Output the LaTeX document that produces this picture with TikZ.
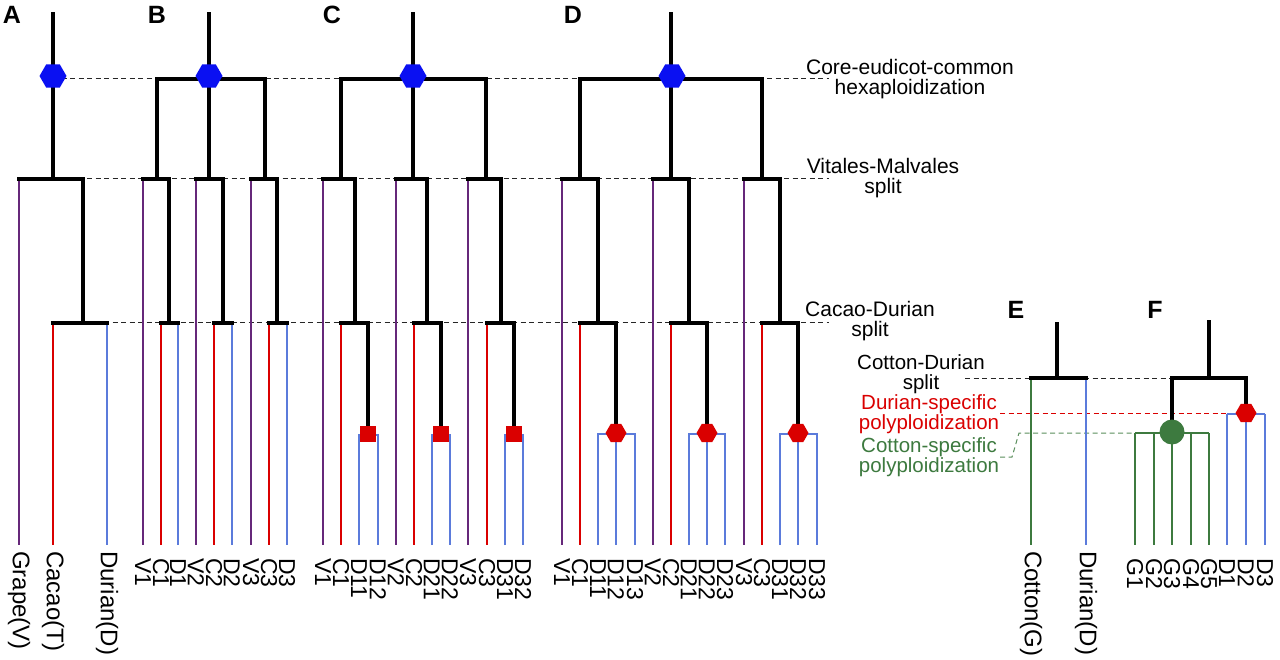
\documentclass[tikz,border=0pt]{standalone}
\usepackage{fontspec}
\setmainfont{Liberation Sans}
\usetikzlibrary{shapes.geometric}
\definecolor{cpur}{HTML}{66287A}
\definecolor{cred}{HTML}{DA0000}
\definecolor{cblu}{HTML}{5B7BDB}
\definecolor{cgrn}{HTML}{3D7A3F}
\definecolor{chex}{HTML}{0A10F2}
\begin{document}
\begin{tikzpicture}[x=1pt,y=-1pt,
  blk/.style={line width=3.3pt, black, line cap=rect},
  pur/.style={line width=2.9pt, cpur},
  rdl/.style={line width=2.9pt, cred},
  bll/.style={line width=2.9pt, cblu},
  gnl/.style={line width=2.9pt, cgrn},
  dsh/.style={line width=1pt, dash pattern=on 5pt off 3.5pt},
  leaflab/.style={rotate=-90, anchor=west, inner sep=0pt, font=\fontsize{23}{23}\selectfont},
  namelab/.style={rotate=-90, anchor=west, inner sep=0pt, font=\fontsize{24}{24}\selectfont},
  annot/.style={align=center, inner sep=0pt, font=\fontsize{21}{20}\selectfont},
  annotb/.style={align=center, inner sep=0pt, font=\fontsize{20.5}{20}\selectfont},
  panel/.style={font=\fontsize{25}{25}\selectfont\bfseries, inner sep=0pt},
  hexb/.style={regular polygon, regular polygon sides=6, fill=chex, minimum size=27pt, inner sep=0pt},
  hexr/.style={regular polygon, regular polygon sides=6, fill=cred, minimum size=21pt, inner sep=0pt},
  sqr/.style={rectangle, fill=cred, minimum size=16pt, inner sep=0pt},
  gdot/.style={circle, fill=cgrn, minimum size=25pt, inner sep=0pt},
]
\fill[white] (0,0) rectangle (1280,660);
\useasboundingbox (0,0) rectangle (1280,660);

% ---------- dashed guide lines ----------
\coordinate (dh-s) at (53,79);   \coordinate (dh-e) at (829,79);
\coordinate (dv-s) at (19,179);  \coordinate (dv-e) at (829,179);
\coordinate (dc-s) at (53,323);  \coordinate (dc-e) at (829,323);
\coordinate (dcd-s) at (965,378); \coordinate (dcd-e) at (1172,378);
\coordinate (dds-s) at (1000,413); \coordinate (dds-e) at (1227,413);
\coordinate (dcs-a) at (1000,457); \coordinate (dcs-b) at (1012,457);
\coordinate (dcs-c) at (1019,433); \coordinate (dcs-e) at (1135,433);
\draw[dsh, black!85] (dh-s) -- (dh-e);
\draw[dsh, black!85] (dv-s) -- (dv-e);
\draw[dsh, black!85] (dc-s) -- (dc-e);
\draw[dsh, black!85] (dcd-s) -- (dcd-e);
\draw[dsh, cred] (dds-s) -- (dds-e);
\draw[dsh, cgrn!85] (dcs-a) -- (dcs-b) -- (dcs-c) -- (dcs-e);

% ---------- annotations ----------
\node[annot] (core) at (910,79) {Core-eudicot-common\\hexaploidization};
\node[annot] (vms) at (883,178) {Vitales-Malvales\\split};
\node[annot] (cds) at (870,321) {Cacao-Durian\\split};
\node[annotb] (ctd) at (921,374) {Cotton-Durian\\split};
\node[annotb, text=cred] (dsp) at (929,414) {Durian-specific\\polyploidization};
\node[annotb, text=cgrn] (csp) at (929,457) {Cotton-specific\\polyploidization};

% ---------- panel letters ----------
\node[panel] (pA) at (12,15) {A};
\node[panel] (pB) at (157,15) {B};
\node[panel] (pC) at (332,15) {C};
\node[panel] (pD) at (573,15) {D};
\node[panel] (pE) at (1016,310) {E};
\node[panel] (pF) at (1155,310) {F};

% ---------- panel A ----------
\coordinate (A-top) at (53,14);
\coordinate (A-r) at (53,179);
\coordinate (A-l) at (19,179);
\coordinate (A-k) at (83,179);
\coordinate (A-kb) at (83,323);
\coordinate (A-c) at (53,323);
\coordinate (A-d) at (107,323);
\coordinate (A-lb) at (19,545);
\coordinate (A-cb) at (53,545);
\coordinate (A-db) at (107,545);
\draw[pur] (A-l) -- (A-lb);
\draw[rdl] (A-c) -- (A-cb);
\draw[bll] (A-d) -- (A-db);
\draw[blk] (A-top) -- (A-r);
\draw[blk] (A-l) -- (A-k) -- (A-kb);
\draw[blk] (A-c) -- (A-d);
\node[hexb] (A-hex) at (53,76) {};
\node[namelab] (A-lab1) at (19,551) {Grape(V)};
\node[namelab] (A-lab2) at (53,551) {Cacao(T)};
\node[namelab] (A-lab3) at (107,551) {Durian(D)};

% ---------- panel B ----------
\coordinate (B-top) at (209,14);
\coordinate (B-r) at (209,79);
\coordinate (B-hl) at (157,79);
\coordinate (B-hr) at (265,79);
\draw[blk] (B-top) -- (B-r);
\draw[blk] (B-hl) -- (B-hr);
\foreach \i/\qv/\qc/\qd/\qk/\qt in {1/143/161/178/169/157, 2/196/214/232/223/209, 3/251/269/287/277/265}{
  \coordinate (B\i-t) at (\qt,79);
  \coordinate (B\i-tb) at (\qt,179);
  \coordinate (B\i-v) at (\qv,179);
  \coordinate (B\i-k) at (\qk,179);
  \coordinate (B\i-kb) at (\qk,323);
  \coordinate (B\i-c) at (\qc,323);
  \coordinate (B\i-d) at (\qd,323);
  \coordinate (B\i-vl) at (\qv,545);
  \coordinate (B\i-cl) at (\qc,545);
  \coordinate (B\i-dl) at (\qd,545);
  \draw[pur] (B\i-v) -- (B\i-vl);
  \draw[rdl] (B\i-c) -- (B\i-cl);
  \draw[bll] (B\i-d) -- (B\i-dl);
  \draw[blk] (B\i-t) -- (B\i-tb);
  \draw[blk] (B\i-v) -- (B\i-k) -- (B\i-kb);
  \draw[blk] (B\i-c) -- (B\i-d);
  \node[leaflab] (B\i-lv) at (\qv,558) {V\i};
  \node[leaflab] (B\i-lc) at (\qc,558) {C\i};
  \node[leaflab] (B\i-ld) at (\qd,558) {D\i};
}
\node[hexb] (B-hex) at (209,76) {};

% ---------- panel C ----------
\coordinate (C-top) at (413,14);
\coordinate (C-r) at (413,79);
\coordinate (C-hl) at (341,79);
\coordinate (C-hr) at (486,79);
\draw[blk] (C-top) -- (C-r);
\draw[blk] (C-hl) -- (C-hr);
\foreach \i/\qv/\qc/\qa/\qb/\qk/\qm/\qt in {1/323/341/359/378/355/368/341, 2/396/414/432/450/427/441/413, 3/468/487/505/523/501/514/486}{
  \coordinate (C\i-t) at (\qt,79);
  \coordinate (C\i-tb) at (\qt,179);
  \coordinate (C\i-v) at (\qv,179);
  \coordinate (C\i-k) at (\qk,179);
  \coordinate (C\i-kb) at (\qk,323);
  \coordinate (C\i-c) at (\qc,323);
  \coordinate (C\i-m) at (\qm,323);
  \coordinate (C\i-mb) at (\qm,434);
  \coordinate (C\i-a) at (\qa,435);
  \coordinate (C\i-b) at (\qb,435);
  \coordinate (C\i-vl) at (\qv,545);
  \coordinate (C\i-cl) at (\qc,545);
  \coordinate (C\i-al) at (\qa,545);
  \coordinate (C\i-bl) at (\qb,545);
  \draw[pur] (C\i-v) -- (C\i-vl);
  \draw[rdl] (C\i-c) -- (C\i-cl);
  \draw[bll] (C\i-al) -- (C\i-a) -- (C\i-b) -- (C\i-bl);
  \draw[blk] (C\i-t) -- (C\i-tb);
  \draw[blk] (C\i-v) -- (C\i-k) -- (C\i-kb);
  \draw[blk] (C\i-c) -- (C\i-m) -- (C\i-mb);
  \node[sqr] (C\i-sq) at (C\i-mb) {};
  \node[leaflab] (C\i-lv) at (\qv,558) {V\i};
  \node[leaflab] (C\i-lc) at (\qc,558) {C\i};
  \node[leaflab] (C\i-la) at (\qa,558) {D\i1};
  \node[leaflab] (C\i-lb) at (\qb,558) {D\i2};
}
\node[hexb] (C-hex) at (413,76) {};

% ---------- panel D ----------
\coordinate (D-top) at (671,14);
\coordinate (D-r) at (671,79);
\coordinate (D-hl) at (580,79);
\coordinate (D-hr) at (762,79);
\draw[blk] (D-top) -- (D-r);
\draw[blk] (D-hl) -- (D-hr);
\foreach \i/\qv/\qc/\qa/\qb/\qe/\qt in {1/562/580/598/616/635/580, 2/653/671/689/707/725/671, 3/744/762/780/798/817/762}{
  \coordinate (D\i-t) at (\qt,79);
  \coordinate (D\i-tb) at (\qt,179);
  \coordinate (D\i-v) at (\qv,179);
  \coordinate (D\i-k) at (\qa,179);
  \coordinate (D\i-kb) at (\qa,323);
  \coordinate (D\i-c) at (\qc,323);
  \coordinate (D\i-m) at (\qb,323);
  \coordinate (D\i-mb) at (\qb,434);
  \coordinate (D\i-a) at (\qa,434);
  \coordinate (D\i-e) at (\qe,434);
  \coordinate (D\i-vl) at (\qv,545);
  \coordinate (D\i-cl) at (\qc,545);
  \coordinate (D\i-al) at (\qa,545);
  \coordinate (D\i-bl) at (\qb,545);
  \coordinate (D\i-el) at (\qe,545);
  \draw[pur] (D\i-v) -- (D\i-vl);
  \draw[rdl] (D\i-c) -- (D\i-cl);
  \draw[bll] (D\i-al) -- (D\i-a) -- (D\i-e) -- (D\i-el);
  \draw[bll] (D\i-mb) -- (D\i-bl);
  \draw[blk] (D\i-t) -- (D\i-tb);
  \draw[blk] (D\i-v) -- (D\i-k) -- (D\i-kb);
  \draw[blk] (D\i-c) -- (D\i-m) -- (D\i-mb);
  \node[hexr] (D\i-hx) at (\qb,433) {};
  \node[leaflab] (D\i-lv) at (\qv,558) {V\i};
  \node[leaflab] (D\i-lc) at (\qc,558) {C\i};
  \node[leaflab] (D\i-la) at (\qa,558) {D\i1};
  \node[leaflab] (D\i-lb) at (\qb,558) {D\i2};
  \node[leaflab] (D\i-le) at (\qe,558) {D\i3};
}
\node[hexb] (D-hex) at (672,76) {};

% ---------- panel E ----------
\coordinate (E-top) at (1057,324);
\coordinate (E-r) at (1057,378);
\coordinate (E-g) at (1031,378);
\coordinate (E-d) at (1086,378);
\coordinate (E-gl) at (1031,545);
\coordinate (E-dl) at (1086,545);
\draw[gnl] (E-g) -- (E-gl);
\draw[bll] (E-d) -- (E-dl);
\draw[blk] (E-top) -- (E-r);
\draw[blk] (E-g) -- (E-d);
\node[namelab] (E-lab1) at (1031,551) {Cotton(G)};
\node[namelab] (E-lab2) at (1086,551) {Durian(D)};

% ---------- panel F ----------
\coordinate (F-top) at (1209,322);
\coordinate (F-r) at (1209,378);
\coordinate (F-g) at (1172,378);
\coordinate (F-d) at (1246,378);
\foreach \j/\qx in {1/1135,2/1154,3/1172,4/1191,5/1209}{
  \coordinate (G\j-t) at (\qx,433);
  \coordinate (G\j-b) at (\qx,545);
  \draw[gnl] (G\j-t) -- (G\j-b);
  \node[leaflab] (G\j-lab) at (\qx,558) {G\j};
}
\foreach \j/\qx in {1/1227,2/1246,3/1265}{
  \coordinate (FD\j-t) at (\qx,414);
  \coordinate (FD\j-b) at (\qx,545);
  \draw[bll] (FD\j-t) -- (FD\j-b);
  \node[leaflab] (FD\j-lab) at (\qx,558) {D\j};
}
\draw[gnl] (G1-t) -- (G5-t);
\draw[bll] (FD1-t) -- (FD3-t);
\draw[blk] (F-top) -- (F-r);
\draw[blk] (F-g) -- (F-d);
\draw[blk] (F-g) -- (G3-t);
\draw[blk] (F-d) -- (FD2-t);
\node[gdot] (F-dot) at (1172,432) {};
\node[hexr] (F-hex) at (1246,413) {};
\end{tikzpicture}
\end{document}
